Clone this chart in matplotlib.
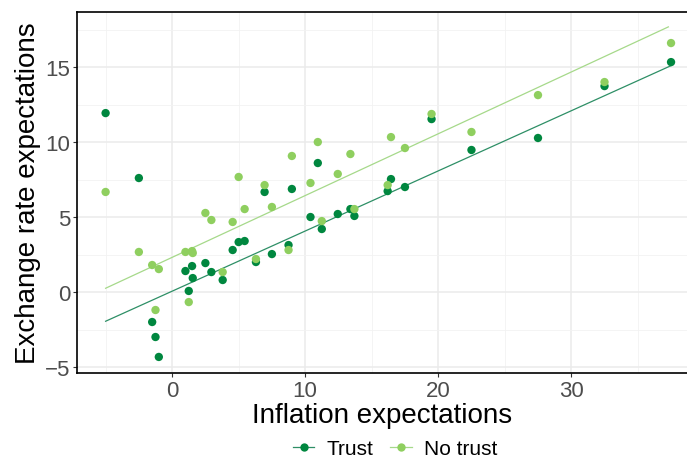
import numpy as np
import matplotlib
matplotlib.use("Agg")
import matplotlib.pyplot as plt
from matplotlib.lines import Line2D

plt.rcParams['font.family'] = ['Liberation Sans', 'DejaVu Sans']

# Inflation expectations (shared x for both groups)
inflation = [-5.0, -2.5, -1.5, -1.25, -1.0, 1.0, 1.25, 1.5, 1.55, 2.5, 2.95, 3.8,
             4.55, 5.0, 5.45, 6.3, 6.95, 7.5, 8.75, 9.0, 10.4, 10.95, 11.25, 12.45,
             13.4, 13.7, 16.2, 16.45, 17.5, 19.5, 22.5, 27.5, 32.5, 37.5]
trust = [11.93, 7.6, -2.0, -3.0, -4.33, 1.4, 0.07, 1.73, 0.93, 1.93, 1.33, 0.8,
         2.8, 3.33, 3.4, 2.0, 6.67, 2.53, 3.13, 6.87, 5.0, 8.6, 4.2, 5.2,
         5.53, 5.07, 6.73, 7.53, 7.0, 11.53, 9.47, 10.27, 13.73, 15.33]
no_trust = [6.67, 2.67, 1.8, -1.2, 1.53, 2.67, -0.67, 2.73, 2.6, 5.27, 4.8, 1.33,
            4.67, 7.67, 5.53, 2.2, 7.13, 5.67, 2.8, 9.07, 7.27, 10.0, 4.73, 7.87,
            9.2, 5.53, 7.13, 10.33, 9.6, 11.87, 10.67, 13.13, 14.0, 16.6]
# Fitted lines as shown in the chart (intercept, slope, x-range end)
fit_intercept = [0.055, 2.31]
fit_slope = [0.401, 0.412]
fit_xmax = [37.5, 37.3]
groups = ["Trust", "No trust"]
colors = ["#00873f", "#8fcf5f"]
line_colors = ["#2e8f66", "#a6d98a"]

xticks = [0, 10, 20, 30]
yticks = [-5, 0, 5, 10, 15]

fig = plt.figure(figsize=(6.87, 4.60), dpi=100)
ax = fig.add_axes([77/687, 1-374/460, 1-77/687, (374-13)/460])

x = np.array(inflation)
for a, b, xm, lc in zip(fit_intercept, fit_slope, fit_xmax, line_colors):
    xs = np.array([x.min(), xm])
    ax.plot(xs, a + b*xs, color=lc, lw=0.9, zorder=2)
for vals, c in zip([trust, no_trust], colors):
    ax.scatter(x, vals, s=36, color=c, edgecolors='none', zorder=3)

ax.set_xlim(-7.15, 38.7)
ax.set_ylim(-5.4, 18.67)
ax.set_xticks(xticks)
ax.set_yticks(yticks)
ax.set_xticks([-5, 5, 15, 25, 35], minor=True)
ax.set_yticks([-2.5, 2.5, 7.5, 12.5, 17.5], minor=True)
ax.grid(which='major', color='#ebebeb', lw=1.1, zorder=0)
ax.grid(which='minor', color='#f2f2f2', lw=0.6, zorder=0)
ax.set_axisbelow(True)
ax.tick_params(which='major', labelsize=16, labelcolor='#4d4d4d', color='#333333',
               length=3, width=0.8, pad=2)
ax.tick_params(which='minor', length=0)
for s in ['left', 'bottom', 'top']:
    ax.spines[s].set_color('black')
    ax.spines[s].set_linewidth(1.2)
ax.spines['right'].set_visible(False)

ax.set_xlabel("Inflation expectations", fontsize=20, labelpad=1)
ax.set_ylabel("Exchange rate expectations", fontsize=20, labelpad=3)

handles = [Line2D([0], [0], color=lc, lw=0.9, marker='o', markersize=6,
                  markerfacecolor=c, markeredgecolor='none')
           for c, lc in zip(colors, line_colors)]
fig.legend(handles, groups, loc='center', bbox_to_anchor=(395/687, 1-450/460), ncol=2,
           frameon=False, fontsize=15, handlelength=1.05, handletextpad=0.58,
           columnspacing=0.8, borderpad=0)

fig.savefig("out.png", dpi=100)
